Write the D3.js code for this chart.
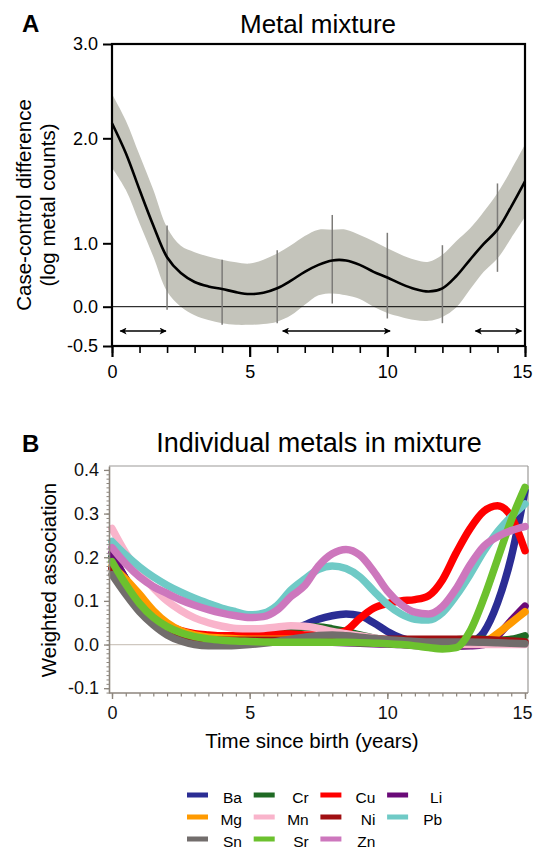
<!DOCTYPE html>
<html><head><meta charset="utf-8">
<script src="https://cdn.jsdelivr.net/npm/d3@7"></script>
<style>
body{margin:0;background:#fff;}
svg{display:block;font-family:"Liberation Sans",Arial,Helvetica,sans-serif;}
</style>
</head><body>
<svg id="c" width="533" height="851"></svg>
<script>
// ---------- Panel A data ----------
const years = [0,0.5,1,1.5,2,2.5,3,3.5,4,4.5,5,5.5,6,6.5,7,7.5,8,8.5,9,9.5,10,10.5,11,11.5,12,12.5,13,13.5,14,14.5,15];
const mixMean  = [2.16,1.86,1.51,1.17,0.78,0.53,0.39,0.32,0.28,0.23,0.20,0.22,0.29,0.41,0.55,0.66,0.73,0.73,0.66,0.55,0.46,0.36,0.28,0.24,0.29,0.48,0.74,0.99,1.13,1.35,1.59];
const mixUpper = [2.47,2.19,1.84,1.51,1.15,0.96,0.86,0.79,0.74,0.70,0.68,0.74,0.84,0.97,1.07,1.13,1.13,1.13,1.08,1.02,0.92,0.82,0.74,0.71,0.82,1.02,1.14,1.30,1.48,1.70,1.94];
const mixLower = [1.72,1.51,1.19,0.79,0.24,0.0,-0.11,-0.17,-0.21,-0.23,-0.23,-0.22,-0.19,-0.11,0.03,0.18,0.21,0.18,0.12,0.00,-0.08,-0.13,-0.17,-0.18,-0.13,-0.01,0.27,0.55,0.76,1.05,1.25];
const ciYears = [0,2,4,6,8,10,12,14];
const ciLow   = [1.65,-0.04,-0.23,-0.21,0.05,-0.15,-0.21,0.55];
const ciHigh  = [2.65,1.17,0.74,0.89,1.27,1.10,0.97,1.57];
const windowStart = [0.3,6.2,13.2];
const windowEnd   = [1.96,10.1,14.87];
const yTicksA = [3.0,2.0,1.0,0.0,-0.5];
const xMajorTicks = [0,5,10,15];

// ---------- Panel B data ----------
const metals = ["Ba","Cr","Cu","Li","Mg","Mn","Ni","Pb","Sn","Sr","Zn"];
const metalColors = ["#2b2d94","#1f6a24","#ff0000","#6a0a78","#ff9a00","#f9b4cb","#a00f12","#6fcac6","#726d6c","#6cc12e","#cd77bd"];
const Ba = [0.2,0.15,0.1,0.065,0.04,0.027,0.02,0.017,0.015,0.015,0.016,0.018,0.022,0.032,0.045,0.058,0.066,0.07,0.066,0.05,0.03,0.015,0.007,0.003,0.001,0.001,0.005,0.028,0.095,0.2,0.352];
const Cr = [0.2,0.15,0.1,0.065,0.04,0.027,0.02,0.017,0.016,0.017,0.02,0.024,0.03,0.036,0.04,0.04,0.036,0.03,0.022,0.015,0.01,0.008,0.008,0.009,0.01,0.011,0.012,0.012,0.01,0.012,0.02];
const Cu = [0.175,0.135,0.1,0.068,0.045,0.032,0.025,0.022,0.02,0.02,0.02,0.022,0.024,0.024,0.022,0.022,0.025,0.032,0.06,0.083,0.094,0.1,0.103,0.112,0.148,0.21,0.265,0.305,0.318,0.293,0.215];
const Li = [0.21,0.15,0.1,0.065,0.04,0.024,0.015,0.01,0.008,0.007,0.007,0.007,0.007,0.007,0.007,0.006,0.005,0.004,0.003,0.002,0.001,0.0,-0.002,-0.003,-0.004,-0.004,-0.003,0.0,0.02,0.055,0.088];
const Mg = [0.18,0.15,0.115,0.078,0.05,0.032,0.022,0.017,0.015,0.013,0.012,0.012,0.012,0.012,0.012,0.012,0.011,0.01,0.01,0.01,0.009,0.008,0.007,0.006,0.005,0.004,0.003,0.006,0.025,0.05,0.075];
const Mn = [0.266,0.21,0.165,0.13,0.1,0.078,0.061,0.05,0.042,0.037,0.036,0.037,0.04,0.043,0.042,0.037,0.03,0.025,0.02,0.015,0.01,0.007,0.005,0.003,0.002,0.0,0.0,0.0,0.0,0.0,0.0];
const Ni = [0.175,0.13,0.09,0.058,0.035,0.02,0.012,0.01,0.01,0.01,0.01,0.01,0.01,0.01,0.01,0.011,0.012,0.012,0.012,0.012,0.012,0.012,0.012,0.012,0.012,0.012,0.012,0.011,0.01,0.008,0.006];
const Pb = [0.236,0.205,0.178,0.155,0.136,0.12,0.106,0.094,0.083,0.075,0.068,0.072,0.09,0.125,0.15,0.172,0.18,0.174,0.155,0.123,0.092,0.07,0.058,0.056,0.073,0.112,0.16,0.213,0.258,0.293,0.322];
const Sn = [0.16,0.115,0.075,0.045,0.022,0.008,0.0,-0.003,-0.003,-0.002,0.0,0.003,0.007,0.012,0.017,0.021,0.022,0.02,0.017,0.014,0.011,0.009,0.007,0.006,0.006,0.006,0.006,0.005,0.004,0.003,0.002];
const Sr = [0.19,0.138,0.094,0.062,0.041,0.027,0.018,0.013,0.01,0.008,0.007,0.006,0.005,0.005,0.005,0.005,0.005,0.005,0.004,0.003,0.002,0.0,-0.003,-0.007,-0.01,-0.007,0.03,0.105,0.195,0.285,0.36];
const Zn = [0.222,0.185,0.155,0.133,0.117,0.102,0.09,0.08,0.072,0.066,0.062,0.064,0.079,0.11,0.135,0.18,0.208,0.218,0.205,0.168,0.123,0.092,0.074,0.07,0.087,0.128,0.182,0.225,0.247,0.261,0.27];
const metalValues = [Ba,Cr,Cu,Li,Mg,Mn,Ni,Pb,Sn,Sr,Zn];
const yTicksB = [-0.1,0.0,0.1,0.2,0.3,0.4];

const svg = d3.select("#c");
const fmt = v => v.toFixed(1);

// ================= Panel A =================
const xA = d3.scaleLinear().domain([0,15]).range([112,525]);
const yA = d3.scaleLinear().domain([-0.5,0,1,2,3]).range([346,306.7,243.3,138.3,44]);
const gA = svg.append("g");

gA.append("path")
  .datum(years.map((t,i)=>({t,lo:mixLower[i],hi:mixUpper[i]})))
  .attr("fill","#c4c4bb")
  .attr("d", d3.area().x(d=>xA(d.t)).y0(d=>yA(d.lo)).y1(d=>yA(d.hi)).curve(d3.curveCatmullRom));

gA.append("line").attr("x1",xA(0)).attr("x2",xA(15)).attr("y1",yA(0)).attr("y2",yA(0))
  .attr("stroke","#000").attr("stroke-width",1);

gA.selectAll(".ci").data(ciYears).join("line")
  .attr("x1",d=>xA(d)).attr("x2",d=>xA(d))
  .attr("y1",(d,i)=>yA(ciLow[i])).attr("y2",(d,i)=>yA(ciHigh[i]))
  .attr("stroke","#7c7b78").attr("stroke-width",1.5);

gA.append("path")
  .datum(years.map((t,i)=>({t,v:mixMean[i]})))
  .attr("fill","none").attr("stroke","#000").attr("stroke-width",2.6)
  .attr("d", d3.line().x(d=>xA(d.t)).y(d=>yA(d.v)).curve(d3.curveCatmullRom));

// arrows
const defs = svg.append("defs");
defs.append("marker").attr("id","ah").attr("viewBox","0 0 10 10").attr("refX",9).attr("refY",5)
  .attr("markerWidth",9).attr("markerHeight",7).attr("markerUnits","userSpaceOnUse")
  .attr("orient","auto-start-reverse")
  .append("path").attr("d","M0,0 L10,5 L0,10 L2.5,5 Z").attr("fill","#000");
gA.selectAll(".win").data(windowStart).join("line")
  .attr("x1",d=>xA(d)).attr("x2",(d,i)=>xA(windowEnd[i]))
  .attr("y1",yA(-0.31)).attr("y2",yA(-0.31))
  .attr("stroke","#000").attr("stroke-width",1.6)
  .attr("marker-start","url(#ah)").attr("marker-end","url(#ah)");

// frame
gA.append("rect").attr("x",xA(0)).attr("y",yA(3)).attr("width",xA(15)-xA(0)).attr("height",yA(-0.5)-yA(3))
  .attr("fill","none").attr("stroke","#000").attr("stroke-width",2.2);

// y axis A
const axYA = gA.append("g").attr("transform",`translate(${xA(0)},0)`)
  .call(d3.axisLeft(yA).tickValues(yTicksA).tickSize(9).tickSizeOuter(0).tickPadding(5).tickFormat(fmt));
axYA.select(".domain").remove();
axYA.selectAll("line").attr("stroke","#000").attr("stroke-width",2);
axYA.selectAll("text").attr("font-size",18).attr("fill","#000").attr("font-family",null);

// x axis A
const axXAm = gA.append("g").attr("transform",`translate(0,${yA(-0.5)})`)
  .call(d3.axisBottom(xA).tickValues(d3.range(0,16,1)).tickSize(7).tickSizeOuter(0).tickFormat(""));
axXAm.select(".domain").remove();
axXAm.selectAll("line").attr("stroke","#000").attr("stroke-width",1.6);
const axXA = gA.append("g").attr("transform",`translate(0,${yA(-0.5)})`)
  .call(d3.axisBottom(xA).tickValues(xMajorTicks).tickSize(11).tickSizeOuter(0).tickPadding(8).tickFormat(d=>d));
axXA.select(".domain").remove();
axXA.selectAll("line").attr("stroke","#000").attr("stroke-width",2.2);
axXA.selectAll("text").attr("font-size",18).attr("fill","#000").attr("font-family",null)
  .attr("dx",d=>d===15?-3:0);

gA.append("text").attr("x",318).attr("y",32.5).attr("text-anchor","middle").attr("font-size",26).text("Metal mixture");
gA.append("text").attr("x",22).attr("y",32).attr("font-size",24).attr("font-weight","bold").text("A");
gA.append("text").attr("transform","translate(31,205) rotate(-90)").attr("text-anchor","middle").attr("font-size",20.5).text("Case-control difference");
gA.append("text").attr("transform","translate(55,205) rotate(-90)").attr("text-anchor","middle").attr("font-size",20.5).text("(log metal counts)");

// ================= Panel B =================
const xB = d3.scaleLinear().domain([0,15]).range([112,525]);
const yB = d3.scaleLinear().domain([-0.111,0.409]).range([693,466]);
const gB = svg.append("g");
const axisCol = "#8c857c";

// frame top / right
gB.append("line").attr("x1",109).attr("x2",528).attr("y1",466).attr("y2",466).attr("stroke","#9c9a98").attr("stroke-width",1.2);
gB.append("line").attr("x1",528).attr("x2",528).attr("y1",466).attr("y2",693).attr("stroke","#9c9a98").attr("stroke-width",1.2);

// zero line
gB.append("line").attr("x1",109).attr("x2",528).attr("y1",yB(0)).attr("y2",yB(0)).attr("stroke","#cfc8c0").attr("stroke-width",1.2);

// lines
const lineB = d3.line().x((d,i)=>xB(years[i])).y(d=>yB(d)).curve(d3.curveMonotoneX);
gB.selectAll(".metal").data(metalValues).join("path")
  .attr("fill","none").attr("stroke",(d,i)=>metalColors[i]).attr("stroke-width",7.5)
  .attr("stroke-linecap","round").attr("stroke-linejoin","round")
  .attr("d", d=>lineB(d));

// y axis B
const axYBm = gB.append("g").attr("transform","translate(109,0)")
  .call(d3.axisLeft(yB).tickValues(d3.range(-11,41,1).map(k=>k/100)).tickSize(2.5).tickSizeOuter(0).tickFormat(""));
axYBm.select(".domain").attr("stroke",axisCol).attr("stroke-width",1.6);
axYBm.selectAll("line").attr("stroke",axisCol).attr("stroke-width",1);
const axYB = gB.append("g").attr("transform","translate(109,0)")
  .call(d3.axisLeft(yB).tickValues(yTicksB).tickSize(5).tickSizeOuter(0).tickPadding(5).tickFormat(fmt));
axYB.select(".domain").remove();
axYB.selectAll("line").attr("stroke",axisCol).attr("stroke-width",1.3);
axYB.selectAll("text").attr("font-size",18).attr("fill","#111").attr("font-family",null);

// x axis B
const axXBm = gB.append("g").attr("transform","translate(0,693)")
  .call(d3.axisBottom(xB).tickValues(d3.range(0,31,1).map(k=>k/2)).tickSize(3.5).tickSizeOuter(0).tickFormat(""));
axXBm.select(".domain").remove();
axXBm.selectAll("line").attr("stroke",axisCol).attr("stroke-width",1.2);
gB.append("line").attr("x1",109).attr("x2",528).attr("y1",693).attr("y2",693).attr("stroke",axisCol).attr("stroke-width",1.6);
const axXB = gB.append("g").attr("transform","translate(0,693)")
  .call(d3.axisBottom(xB).tickValues(xMajorTicks).tickSize(6).tickSizeOuter(0).tickPadding(7).tickFormat(d=>d));
axXB.select(".domain").remove();
axXB.selectAll("line").attr("stroke",axisCol).attr("stroke-width",1.4);
axXB.selectAll("text").attr("font-size",18).attr("fill","#111").attr("font-family",null)
  .attr("dx",d=>d===15?-3:0);

gB.append("text").attr("x",319).attr("y",452).attr("text-anchor","middle").attr("font-size",27).text("Individual metals in mixture");
gB.append("text").attr("x",22).attr("y",452).attr("font-size",24).attr("font-weight","bold").text("B");
gB.append("text").attr("transform","translate(56,580) rotate(-90)").attr("text-anchor","middle").attr("font-size",20.5).text("Weighted association");
gB.append("text").attr("x",312).attr("y",748).attr("text-anchor","middle").attr("font-size",20.5).text("Time since birth (years)");

// legend
const legendCols = 4;
const leg = gB.append("g");
metals.forEach((m,i)=>{
  const col = i % legendCols, row = Math.floor(i/legendCols);
  const cx = 187 + col*66.7, cy = 795 + row*22;
  leg.append("rect").attr("x",cx).attr("y",cy-2.5).attr("width",21).attr("height",5).attr("fill",metalColors[i]);
  leg.append("text").attr("x",cx+55).attr("y",cy+8).attr("text-anchor","end").attr("font-size",15.5).text(m);
});
</script>
</body></html>
